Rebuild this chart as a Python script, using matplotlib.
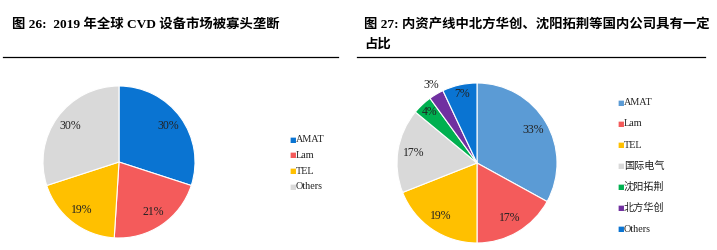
import numpy as np
import matplotlib.pyplot as plt
from matplotlib.lines import Line2D

plt.rcParams['font.family'] = ['Liberation Serif', 'Noto Sans CJK SC']

W, H = 717, 250

left_labels = ['AMAT', 'Lam', 'TEL', 'Others']
left_values = [30, 21, 19, 30]
left_colors = ['#0A74D2', '#F45B5B', '#FFC000', '#D9D9D9']

right_labels = ['AMAT', 'Lam', 'TEL', '国际电气', '沈阳拓荆', '北方华创', 'Others']
right_values = [33, 17, 19, 17, 4, 3, 7]
right_colors = ['#5B9BD5', '#F45B5B', '#FFC000', '#D9D9D9', '#00B050', '#7030A0', '#0A74D2']

title_left = '图 26:  2019 年全球 CVD 设备市场被寡头垄断'
title_right_1 = '图 27: 内资产线中北方华创、沈阳拓荆等国内公司具有一定'
title_right_2 = '占比'

FAM = ['Liberation Serif', 'Noto Sans CJK SC']


def px_axes(fig, cx, cy, r):
    # axes box in pixel coords (origin top-left), square around the pie
    return fig.add_axes([(cx - r) / W, 1 - (cy + r) / H, 2 * r / W, 2 * r / H])


def draw_pie(ax, values, colors, label_r):
    wedges, _ = ax.pie(values, colors=colors, startangle=90, counterclock=False,
                       radius=1, wedgeprops=dict(edgecolor='white', linewidth=0.8))
    total = sum(values)
    start = 90.0
    for v, lr in zip(values, label_r):
        ang = np.deg2rad(start - 360 * v / total / 2)
        start -= 360 * v / total
        ax.text(lr * np.cos(ang), lr * np.sin(ang), f'{v}%', ha='center', va='center',
                fontsize=8.5, color='#222222')
    ax.set_xlim(-1, 1)
    ax.set_ylim(-1, 1)
    ax.set_aspect('equal')
    ax.axis('off')
    return wedges


fig = plt.figure(figsize=(W / 100, H / 100), dpi=100)

fig.text(12 / W, 1 - 24 / H, title_left, fontsize=9.6, fontweight='bold',
         ha='left', va='center', family=FAM)
fig.text(364 / W, 1 - 24 / H, title_right_1, fontsize=9.6, fontweight='bold',
         ha='left', va='center', family=FAM)
fig.text(364 / W, 1 - 44 / H, title_right_2, fontsize=9.6, fontweight='bold',
         ha='left', va='center', family=FAM)

fig.add_artist(Line2D([3 / W, 338 / W], [1 - 57 / H] * 2, color='black', lw=0.9,
                      transform=fig.transFigure))
fig.add_artist(Line2D([357 / W, 705 / W], [1 - 57 / H] * 2, color='black', lw=0.9,
                      transform=fig.transFigure))

ax1 = px_axes(fig, 119, 162, 76)
draw_pie(ax1, left_values, left_colors, [0.8, 0.8, 0.8, 0.8])

ax2 = px_axes(fig, 477, 163, 80)
draw_pie(ax2, right_values, right_colors, [0.82, 0.8, 0.8, 0.8, 0.87, 1.13, 0.88])


def legend_at(labels, colors, x, y0, dy, fs):
    for i, (lab, c) in enumerate(zip(labels, colors)):
        y = 1 - (y0 + i * dy) / H
        fig.text(x / W, y, '■', fontsize=5, color=c, ha='left', va='center',
                 family='DejaVu Sans')
        fig.text((x + 7) / W, y, lab, fontsize=fs, color='#222222', ha='left',
                 va='center', family=FAM)


legend_at(left_labels, left_colors, 289, 140, 15.5, 7.3)
legend_at(right_labels, right_colors, 617, 103, 21, 7.3)

fig.savefig('out.png', dpi=100, facecolor='white')
